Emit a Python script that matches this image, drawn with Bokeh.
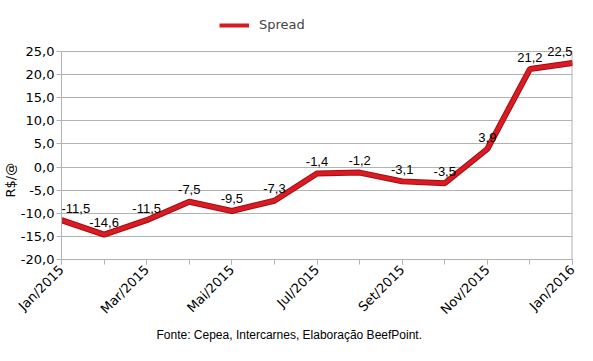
from bokeh.plotting import figure
from bokeh.models import (ColumnDataSource, Range1d, FixedTicker, Legend,
                          LegendItem, Label, Title)
from bokeh.embed import file_html
from bokeh.resources import INLINE

# ---- data ----
months = ["Jan/2015", "Fev/2015", "Mar/2015", "Abr/2015", "Mai/2015", "Jun/2015",
          "Jul/2015", "Ago/2015", "Set/2015", "Out/2015", "Nov/2015", "Dez/2015", "Jan/2016"]
spread = [-11.5, -14.6, -11.5, -7.5, -9.5, -7.3, -1.4, -1.2, -3.1, -3.5, 3.9, 21.2, 22.5]
y_ticks = [-20, -15, -10, -5, 0, 5, 10, 15, 20, 25]
labelled_months = ["Jan/2015", "Mar/2015", "Mai/2015", "Jul/2015", "Set/2015", "Nov/2015", "Jan/2016"]
series_name = "Spread"
y_label = "R$/@"
footer = "Fonte: Cepea, Intercarnes, Elaboração BeefPoint."


def br(v):
    return f"{v:.1f}".replace(".", ",")


idx = list(range(len(months)))
src = ColumnDataSource(dict(x=idx, y=spread))
y_lo, y_hi = min(y_ticks), max(y_ticks)

# frame reaches up to the legend row so the legend (inside the frame) is not clipped
p = figure(width=593, height=361, output_backend="svg", toolbar_location=None,
           x_range=Range1d(0, len(months) - 1),
           y_range=Range1d(y_lo, y_hi + 8),
           min_border_left=60, min_border_right=21, min_border_top=14, min_border_bottom=102)
p.outline_line_color = None
p.background_fill_color = "white"

GRAY = "#b3b3b3"
p.xgrid.grid_line_color = None
p.ygrid.grid_line_color = GRAY
p.ygrid.ticker = FixedTicker(ticks=y_ticks)

# y axis
ya = p.yaxis[0]
ya.ticker = FixedTicker(ticks=y_ticks)
ya.bounds = (y_lo, y_hi)
ya.major_label_overrides = {t: br(t) for t in y_ticks}
ya.axis_line_color = GRAY
ya.major_tick_line_color = GRAY
ya.major_tick_out = 5
ya.major_tick_in = 0
ya.minor_tick_line_color = None
ya.major_label_text_font = "DejaVu Sans"
ya.major_label_text_font_size = "13px"
ya.major_label_text_color = "black"
ya.major_label_standoff = 2

# y axis title, placed along the left side like the original
p.add_layout(Title(text=y_label, align="left", offset=62, standoff=0,
                   text_font="DejaVu Sans", text_font_size="13px",
                   text_font_style="normal", text_color="black"), "left")

# x axis
xa = p.xaxis[0]
major = [months.index(m) for m in labelled_months]
xa.ticker = FixedTicker(ticks=major, minor_ticks=idx)
xa.major_label_overrides = {months.index(m): m for m in labelled_months}
xa.major_label_orientation = 0.785398
xa.axis_line_color = GRAY
xa.major_tick_line_color = GRAY
xa.minor_tick_line_color = GRAY
xa.major_tick_out = 5
xa.major_tick_in = 0
xa.minor_tick_out = 5
xa.minor_tick_in = 0
xa.major_label_text_font = "DejaVu Sans"
xa.major_label_text_font_size = "13px"
xa.major_label_text_color = "black"
xa.major_label_standoff = 3

# right border of the plot area (last category, from bottom to top tick)
p.segment(x0=[idx[-1]], y0=[y_lo], x1=[idx[-1]], y1=[y_hi], line_color=GRAY, line_width=2)

# line
p.line("x", "y", source=src, line_color="#9e0f17", line_width=6)
r = p.line("x", "y", source=src, line_color="#dc1a22", line_width=4)

# data labels
for i, (xi, v) in enumerate(zip(idx, spread)):
    align = "left" if i == 0 else ("right" if i == len(idx) - 1 else "center")
    p.add_layout(Label(x=xi, y=v, text=br(v), text_align=align,
                       text_baseline="alphabetic", y_offset=12,
                       text_font="Liberation Sans", text_font_size="13px",
                       text_color="black"))

legend = Legend(items=[LegendItem(label=series_name, renderers=[r])], orientation="horizontal",
                location=(158, 227), border_line_color=None, background_fill_alpha=0,
                label_text_font="DejaVu Sans", label_text_font_size="13px",
                glyph_width=30, glyph_height=12, label_standoff=10, padding=4, margin=0)
p.add_layout(legend)

p.add_layout(Title(text=footer, align="left", offset=95, text_font="Liberation Sans", standoff=0,
                   text_font_size="12px", text_font_style="normal", text_color="black"), "below")

open("out.html", "w").write(file_html(p, INLINE))
